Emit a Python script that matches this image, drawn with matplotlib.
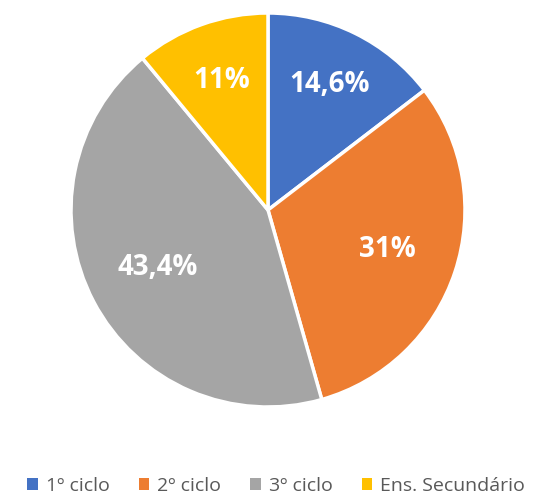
import numpy as np
import matplotlib.pyplot as plt
from matplotlib.patches import Patch

categories = ['1º ciclo', '2º ciclo', '3º ciclo', 'Ens. Secundário']
values = [14.6, 31, 43.4, 11]
pct_labels = ['14,6%', '31%', '43,4%', '11%']
colors = ['#4472C4', '#ED7D31', '#A5A5A5', '#FFC000']

plt.rcParams['font.family'] = ['Open Sans', 'DejaVu Sans']

fig = plt.figure(figsize=(5.36, 5.0), dpi=100)
# pie centre ~ (268, 210) px, radius ~ 197 px
r = 197 * 1.02
ax = fig.add_axes([(268 - r) / 536, (290 - r) / 500, 2 * r / 536, 2 * r / 500])

wedges, _ = ax.pie(values, colors=colors, startangle=90, counterclock=False,
                   radius=1, wedgeprops=dict(edgecolor='white', linewidth=2.5))
ax.set_xlim(-1.02, 1.02)
ax.set_ylim(-1.02, 1.02)
ax.set_aspect('equal')

total = sum(values)
start = 90
dists = [0.71, 0.64, 0.63, 0.70]
for v, lab, d in zip(values, pct_labels, dists):
    mid = start - v / total * 180
    start -= v / total * 360
    x = d * np.cos(np.radians(mid))
    y = d * np.sin(np.radians(mid))
    ax.text(x, y, lab, ha='center', va='center', color='white',
            fontsize=20, fontweight='bold')

handles = [Patch(facecolor=c, label=n) for c, n in zip(colors, categories)]
fig.legend(handles=handles, loc='lower center', ncol=4, frameon=False,
           bbox_to_anchor=(0.515, -0.025), fontsize=14, labelcolor='#595959',
           handlelength=0.55, handleheight=0.55, handletextpad=0.4,
           columnspacing=1.5)

fig.savefig('out.png', dpi=100)
